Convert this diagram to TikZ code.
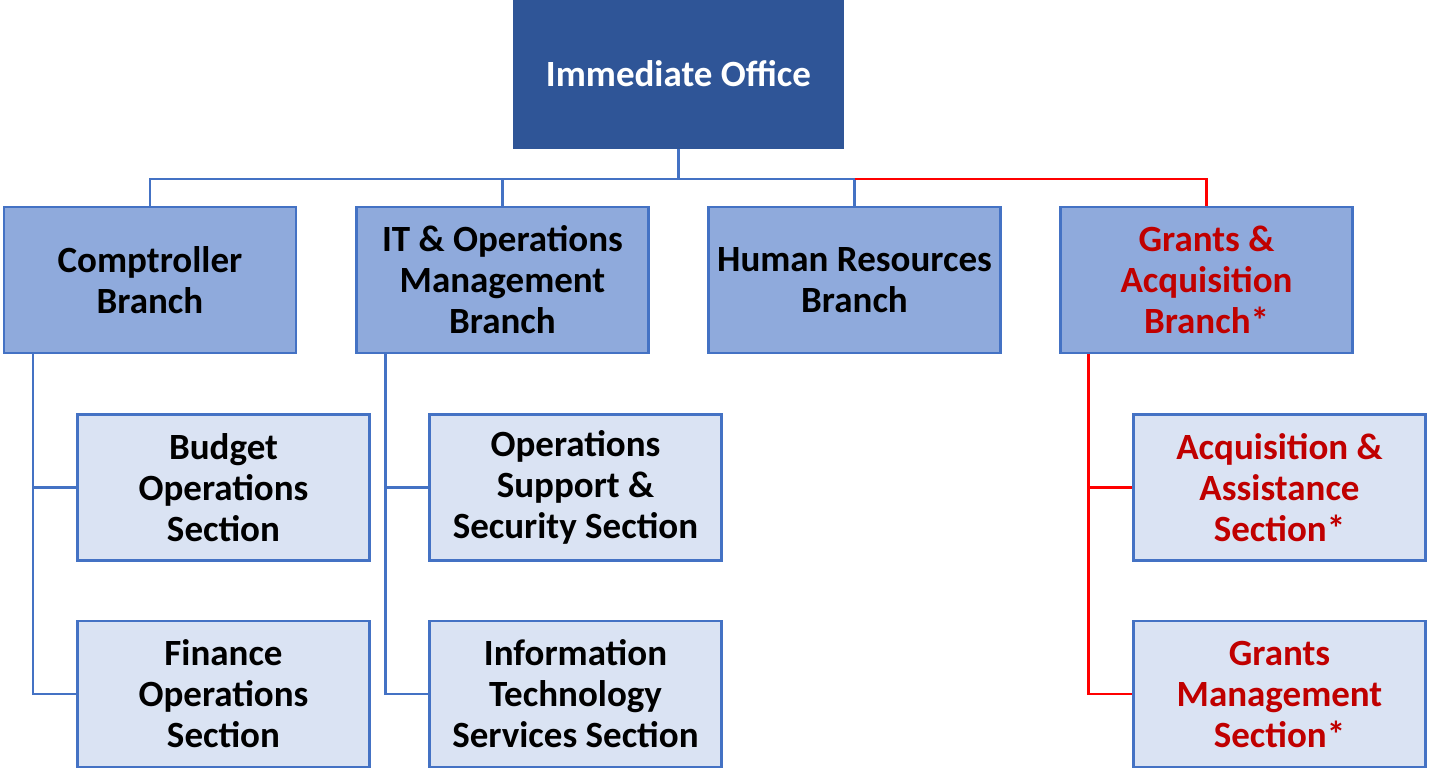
\documentclass[tikz,border=0pt]{standalone}
\usepackage{fontspec}
\setmainfont{Carlito}
\usetikzlibrary{positioning}

\definecolor{topblue}{HTML}{2F5597}
\definecolor{midblue}{HTML}{8FAADC}
\definecolor{paleblue}{HTML}{DAE3F3}
\definecolor{edgeblue}{HTML}{4472C4}
\definecolor{textred}{HTML}{C00000}
\definecolor{linered}{HTML}{FF0000}

\tikzset{
  unit/.style={rectangle, align=center, inner sep=0pt, line width=2.5pt,
    font=\fontsize{37}{41}\selectfont\bfseries},
  office/.style={unit, fill=topblue, draw=topblue, text=white,
    minimum width=328, minimum height=147},
  branch/.style={unit, fill=midblue, draw=edgeblue,
    minimum width=292, minimum height=146},
  section/.style={unit, fill=paleblue, draw=edgeblue,
    minimum width=292, minimum height=146},
  blueline/.style={draw=edgeblue, line width=2.5pt},
  redline/.style={draw=linered, line width=2.5pt},
}

\begin{document}
\begin{tikzpicture}[x=1pt,y=-1pt]
  \useasboundingbox (0,0) rectangle (1429,768);

  % top
  \node[office] (office) at (678.5,74) {Immediate Office};

  % branches
  \node[branch] (comp) at (150,280) {Comptroller\\Branch};
  \node[branch] (itops) at (502.5,280) {IT \& Operations\\Management\\Branch};
  \node[branch] (hr) at (854.5,280) {Human Resources\\Branch};
  \node[branch, text=textred] (grants) at (1206.5,280) {Grants \&\\Acquisition\\Branch*};

  % sections
  \node[section] (budget) at (223.5,487.5) {Budget\\Operations\\Section};
  \node[section] (finance) at (223.5,694) {Finance\\Operations\\Section};
  \node[section] (opsec) at (575.5,487.5) {Operations\\Support \&\\Security Section};
  \node[section] (itserv) at (575.5,694) {Information\\Technology\\Services Section};
  \node[section, text=textred] (acq) at (1279.5,487.5) {Acquisition \&\\Assistance\\Section*};
  \node[section, text=textred] (gms) at (1279.5,694) {Grants\\Management\\Section*};

  % office to branches
  \draw[blueline] (office.south) -- ++(0,30) coordinate (bus);
  \draw[blueline] (bus) -| (comp.north);
  \draw[blueline] (bus) -| (itops.north);
  \draw[blueline] (bus) -| (hr.north);
  \draw[redline] (hr.north |- bus) -| (grants.north);

  % branches to sections
  \foreach \b/\s/\t in {comp/budget/finance, itops/opsec/itserv} {
    \draw[blueline] (\b.south west) ++(30,0) |- (\s.west);
    \draw[blueline] (\b.south west) ++(30,0) |- (\t.west);
  }
  \draw[redline] (grants.south west) ++(29,0) |- (acq.west);
  \draw[redline] (grants.south west) ++(29,0) |- (gms.west);
\end{tikzpicture}
\end{document}
